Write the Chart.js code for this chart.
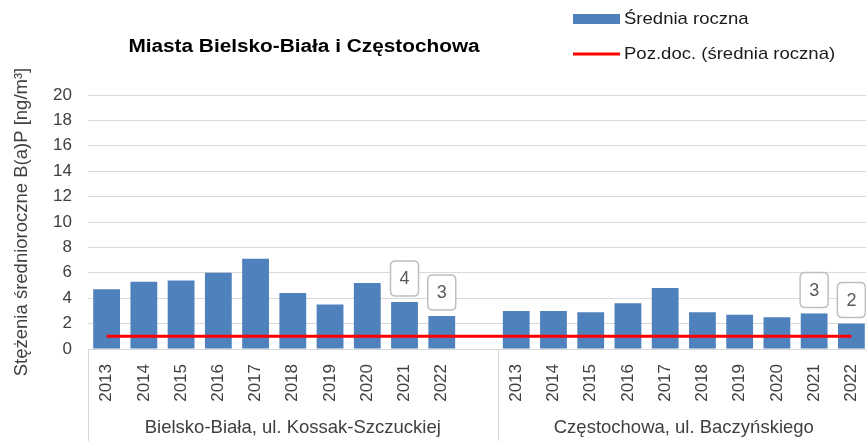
<!DOCTYPE html>
<html>
<head>
<meta charset="utf-8">
<script src="https://cdn.jsdelivr.net/npm/chart.js@4"></script>
<style>
  html, body { margin: 0; padding: 0; background: #fff; overflow: hidden; }
  #wrap { width: 870px; height: 441px; }
</style>
</head>
<body>
<div id="wrap"><canvas id="wykres" width="870" height="441"></canvas></div>
<script>
// dane
const lata = ['2013', '2014', '2015', '2016', '2017', '2018', '2019', '2020', '2021', '2022', '',
              '2013', '2014', '2015', '2016', '2017', '2018', '2019', '2020', '2021', '2022'];
const grupy = ['Bielsko-Biała, ul. Kossak-Szczuckiej', 'Częstochowa, ul. Baczyńskiego'];
const grupyZakres = [[0, 10], [11, 20]];
const srednia = [4.7, 5.3, 5.4, 6.0, 7.1, 4.4, 3.5, 5.2, 3.7, 2.6, null,
                 3.0, 3.0, 2.9, 3.6, 4.8, 2.9, 2.7, 2.5, 2.8, 2.0];
const pozDoc = [1, 1, 1, 1, 1, 1, 1, 1, 1, 1, 1,
                1, 1, 1, 1, 1, 1, 1, 1, 1, 1];
const etykiety = [null, null, null, null, null, null, null, null, '4', '3', null,
                  null, null, null, null, null, null, null, null, '3', '2'];
const tytul = 'Miasta Bielsko-Biała i Częstochowa';
const tytulOsiY = 'Stężenia średnioroczne B(a)P [ng/m³]';

const FONT = "'Liberation Sans', Arial, sans-serif";
const NIEBIESKI = '#4F81BD';
const CZERWONY = '#FF0000';
const SZARY = '#D9D9D9';

function zaokraglony(ctx, x, y, w, h, r) {
  ctx.beginPath();
  ctx.moveTo(x + r, y);
  ctx.lineTo(x + w - r, y);
  ctx.quadraticCurveTo(x + w, y, x + w, y + r);
  ctx.lineTo(x + w, y + h - r);
  ctx.quadraticCurveTo(x + w, y + h, x + w - r, y + h);
  ctx.lineTo(x + r, y + h);
  ctx.quadraticCurveTo(x, y + h, x, y + h - r);
  ctx.lineTo(x, y + r);
  ctx.quadraticCurveTo(x, y, x + r, y);
  ctx.closePath();
}

// tekst lekko rozciągnięty w poziomie, jak w oryginale z Excela
function tekst(ctx, s, x, y, sx) {
  ctx.save();
  ctx.translate(x, y);
  ctx.scale(sx, 1);
  ctx.fillText(s, 0, 0);
  ctx.restore();
}

const dekoracje = {
  id: 'dekoracje',
  afterDatasetsDraw(chart) {
    const ctx = chart.ctx;
    const meta = chart.getDatasetMeta(1);
    ctx.save();
    meta.data.forEach((bar, i) => {
      if (!etykiety[i]) return;
      const w = 28, h = 35;
      const bx = bar.x - w / 2;
      const by = bar.y - 6 - h;
      zaokraglony(ctx, bx, by, w, h, 5);
      ctx.fillStyle = '#fff';
      ctx.fill();
      ctx.lineWidth = 1.5;
      ctx.strokeStyle = '#BFBFBF';
      ctx.stroke();
      ctx.fillStyle = '#595959';
      ctx.font = '18px ' + FONT;
      ctx.textAlign = 'center';
      ctx.textBaseline = 'middle';
      ctx.fillText(etykiety[i], bar.x, by + h / 2 + 1);
    });
    ctx.restore();
  },
  afterDraw(chart) {
    const { ctx, chartArea, scales: { x } } = chart;
    ctx.save();
    // tytuł
    ctx.fillStyle = '#000';
    ctx.font = 'bold 18px ' + FONT;
    ctx.textAlign = 'center';
    ctx.textBaseline = 'middle';
    tekst(ctx, tytul, 304, 47, 1.155);

    // legenda
    ctx.font = '17px ' + FONT;
    ctx.textAlign = 'left';
    ctx.fillStyle = NIEBIESKI;
    ctx.fillRect(573, 14, 47, 10);
    ctx.fillStyle = '#1a1a1a';
    tekst(ctx, chart.data.datasets[1].label, 624, 19, 1.09);
    ctx.strokeStyle = CZERWONY;
    ctx.lineWidth = 3;
    ctx.beginPath();
    ctx.moveTo(573, 54);
    ctx.lineTo(620, 54);
    ctx.stroke();
    tekst(ctx, chart.data.datasets[0].label, 624, 54, 1.09);

    // podział kategorii i nazwy grup
    const pol = (x.getPixelForValue(1) - x.getPixelForValue(0)) / 2;
    ctx.strokeStyle = SZARY;
    ctx.lineWidth = 1;
    ctx.font = '18.5px ' + FONT;
    ctx.fillStyle = '#404040';
    ctx.textAlign = 'center';
    grupyZakres.forEach(([a, b], k) => {
      const x0 = x.getPixelForValue(a) - pol;
      const x1 = x.getPixelForValue(b) + pol;
      ctx.beginPath();
      ctx.moveTo(Math.round(x0) + 0.5, chartArea.bottom);
      ctx.lineTo(Math.round(x0) + 0.5, chart.height);
      ctx.moveTo(Math.round(x1) + 0.5, chartArea.bottom);
      ctx.lineTo(Math.round(x1) + 0.5, chart.height);
      ctx.stroke();
      ctx.fillText(grupy[k], (x0 + x1) / 2, 428);
    });
    ctx.restore();
  }
};

new Chart(document.getElementById('wykres'), {
  data: {
    labels: lata,
    datasets: [
      {
        type: 'line',
        label: 'Poz.doc. (średnia roczna)',
        data: pozDoc,
        borderColor: CZERWONY,
        borderWidth: 3,
        pointRadius: 0,
        order: 0
      },
      {
        type: 'bar',
        label: 'Średnia roczna',
        data: srednia,
        backgroundColor: NIEBIESKI,
        barPercentage: 0.72,
        categoryPercentage: 1,
        order: 1
      }
    ]
  },
  options: {
    responsive: false,
    animation: false,
    devicePixelRatio: 1,
    layout: { padding: { top: 95, right: 0, bottom: 0, left: 0 } },
    plugins: {
      legend: { display: false },
      title: { display: false },
      tooltip: { enabled: false }
    },
    scales: {
      x: {
        grid: { display: false, drawTicks: false },
        border: { display: true, color: SZARY, width: 1 },
        ticks: {
          autoSkip: false,
          minRotation: 90,
          maxRotation: 90,
          padding: 15,
          color: '#404040',
          font: { family: FONT, size: 17 }
        },
        afterFit(scale) {
          scale.height = 92;
          scale.paddingLeft = 0;
          scale.paddingRight = 0;
        }
      },
      y: {
        min: 0,
        max: 20,
        ticks: {
          stepSize: 2,
          padding: 16,
          color: '#404040',
          font: { family: FONT, size: 17 }
        },
        grid: { color: SZARY, lineWidth: 1, drawTicks: false },
        border: { display: false },
        title: {
          display: true,
          text: tytulOsiY,
          color: '#404040',
          font: { family: FONT, size: 18.5 },
          padding: { top: 11, bottom: 0 }
        },
        afterFit(scale) { scale.width = 88; }
      }
    }
  },
  plugins: [dekoracje]
});
</script>
</body>
</html>
